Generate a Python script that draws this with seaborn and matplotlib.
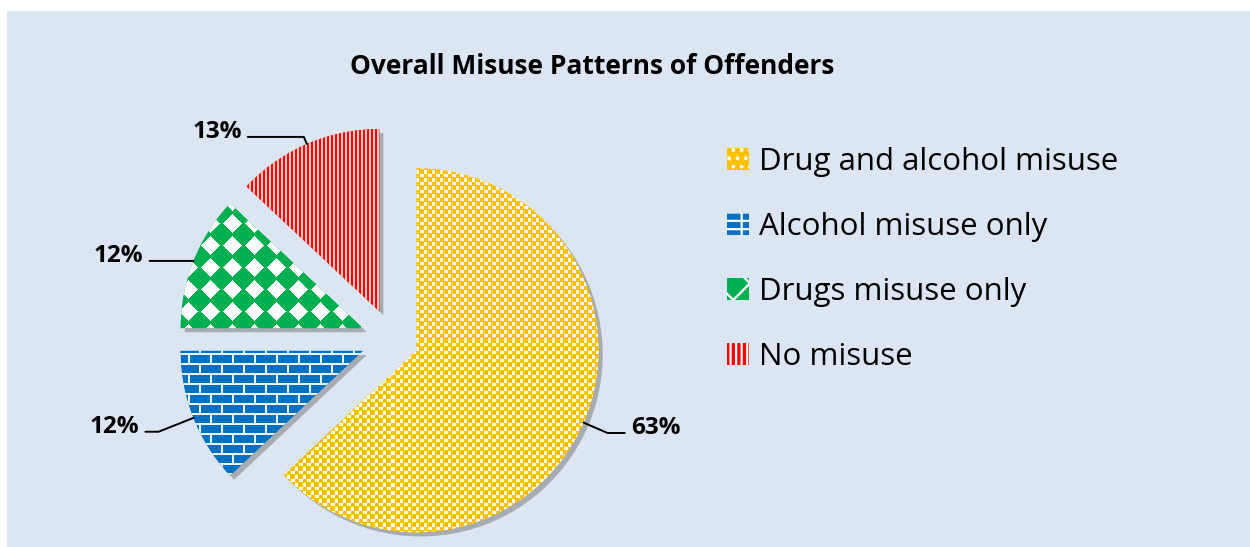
import numpy as np
import matplotlib
matplotlib.use('Agg')
import matplotlib.pyplot as plt
import matplotlib.patheffects as pe
from matplotlib.patches import Patch, Rectangle
import matplotlib.colors as mcolors
import seaborn as sns

# data
categories = ['Drug and alcohol misuse', 'Alcohol misuse only', 'Drugs misuse only', 'No misuse']
shares = [63, 12, 12, 13]
pct_labels = ['63%', '12%', '12%', '13%']
colors = ['#FFC000', '#0070C0', '#00B050', '#FF0000']
explode = [0.15, 0.17, 0.17, 0.17]
# label offsets from slice edge, in points
label_offsets = [(34, -4), (-39, -6.5), (-36, 3.6), (-47, 8.6)]

sns.set_theme(style='white')
plt.rcParams['font.family'] = ['Open Sans', 'DejaVu Sans']
plt.rcParams['text.color'] = 'black'
plt.rcParams['hatch.linewidth'] = 1.6

W, H = 1250, 547
fig = plt.figure(figsize=(W / 100, H / 100), dpi=100)
fig.patch.set_facecolor('white')
fig.patches.append(Rectangle((7 / W, 0), 1 - 7 / W, 1 - 11 / H, transform=fig.transFigure,
                             facecolor='#DCE6F2', edgecolor='none', zorder=-1))

R = 182      # pie radius, px
LIM = 1.3
side = 2 * LIM * R
cx, cy = 391.5, H - 339.5
ax = fig.add_axes([(cx - side / 2) / W, (cy - side / 2) / H, side / W, side / H])

wedges, _ = ax.pie(shares, colors=colors, explode=explode, startangle=90,
                   counterclock=False, wedgeprops=dict(linewidth=0))
for w in wedges:
    w.set_path_effects([pe.SimplePatchShadow(offset=(3, -3), shadow_rgbFace='0.4', alpha=0.45),
                        pe.Normal()])

# fill patterns, one image pixel per screen pixel
n = int(round(side))
yy, xx = np.mgrid[0:n, 0:n]


def paint(mask, fg, bg):
    img = np.empty((n, n, 3))
    img[:] = mcolors.to_rgb(bg)
    img[mask] = mcolors.to_rgb(fg)
    return img


dots = (((xx % 8) < 4) & ((yy % 8) < 3)) | ((((xx + 4) % 8) < 3) & (((yy + 4) % 8) < 4))
row = yy // 10
bricks = ((yy % 10) < 2) | (((xx + (row % 2) * 11) % 22) < 2)
p = 22
dx = np.abs((xx % p) - p / 2)
dy = np.abs((yy % p) - p / 2)
diamonds = (dx + dy) <= 9
stripes = (xx % 4) >= 2

patterns = [paint(dots, 'white', colors[0]),
            paint(bricks, '#EEF4FB', colors[1]),
            paint(diamonds, 'white', colors[2]),
            paint(stripes, '#FFC8C8', colors[3])]
for w, img in zip(wedges, patterns):
    im = ax.imshow(img, extent=(-LIM, LIM, -LIM, LIM), origin='upper',
                   interpolation='nearest', zorder=2)
    im.set_clip_path(w)

ax.set_xlim(-LIM, LIM)
ax.set_ylim(-LIM, LIM)
ax.set_aspect('equal')
ax.axis('off')

# percentage labels with leader lines
for w, lab, off in zip(wedges, pct_labels, label_offsets):
    mid = np.deg2rad((w.theta1 + w.theta2) / 2)
    x0 = w.center[0] + w.r * np.cos(mid)
    y0 = w.center[1] + w.r * np.sin(mid)
    left = off[0] > 0
    ax.annotate(lab, xy=(x0, y0), xytext=off, textcoords='offset points',
                ha='left' if left else 'right', va='center',
                fontsize=17.5, fontweight='bold', color='black',
                annotation_clip=False, zorder=5,
                arrowprops=dict(arrowstyle='-', color='black', lw=1.4,
                                shrinkA=2, shrinkB=0,
                                relpos=(0, 0.3) if left else (1, 0.3),
                                connectionstyle='angle,angleA=0,angleB=%.1f,rad=0'
                                                % np.rad2deg(mid)))

fig.text(592 / W, 1 - 67 / H, 'Overall Misuse Patterns of Offenders',
         ha='center', va='center', fontsize=19, fontweight='bold', color='black')

hatches = ['..', '-+', 'x', '|||']
handles = [Patch(facecolor=c, edgecolor='white', hatch=h, linewidth=0)
           for c, h in zip(colors, hatches)]
fig.legend(handles, categories, loc='upper left', bbox_to_anchor=(727 / W, 1 - 147 / H),
           frameon=False, fontsize=22.5, handlelength=0.7, handleheight=0.7,
           handletextpad=0.33, labelspacing=1.12, borderpad=0, borderaxespad=0)

fig.savefig('out.png', dpi=100, facecolor=fig.get_facecolor())
